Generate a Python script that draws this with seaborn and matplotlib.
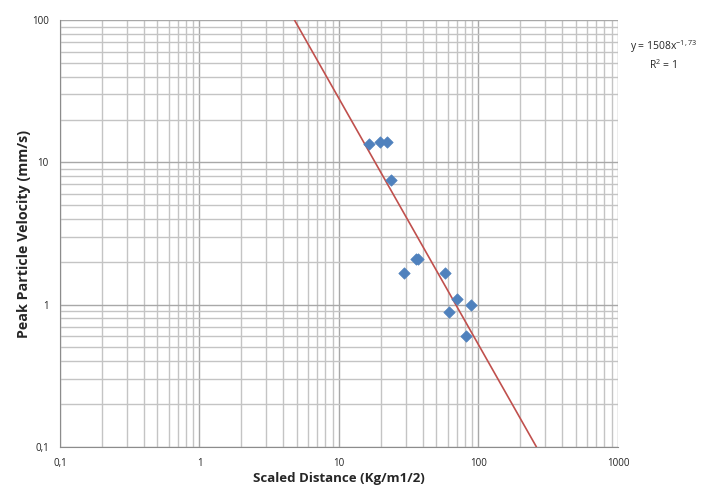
import numpy as np
import pandas as pd
import matplotlib
matplotlib.use("Agg")
import matplotlib.pyplot as plt
from matplotlib.ticker import FuncFormatter, LogLocator, NullFormatter
import seaborn as sns

# ── Data ────────────────────────────────────────────────────────────────
scaled_distance = [16.4, 19.7, 22.0, 23.5, 29.4, 35.5, 37.0, 57.8, 69.8, 88.8, 61.5, 81.0]
peak_velocity   = [13.5, 14.0, 14.0, 7.5, 1.68, 2.08, 2.08, 1.68, 1.09, 0.99, 0.89, 0.60]

fit_coef = 1508
fit_exp = -1.73
x_limits = [0.1, 1000]
y_limits = [0.1, 100]

# trendline endpoints: where the fit crosses the top and bottom of the plot
fit_x = [(y / fit_coef) ** (1 / fit_exp) for y in (y_limits[1], y_limits[0])]
fit_y = [fit_coef * x ** fit_exp for x in fit_x]

points = pd.DataFrame({"x": scaled_distance, "y": peak_velocity})
trend = pd.DataFrame({"x": fit_x, "y": fit_y})

sns.set_style("white")
plt.rcParams["font.family"] = ["Open Sans", "DejaVu Sans"]
plt.rcParams["mathtext.default"] = "regular"

fig = plt.figure(figsize=(7.04, 4.90), dpi=100)
ax = fig.add_axes([0.0852, 0.088, 0.7926, 0.871])

ax.set_xscale("log")
ax.set_yscale("log")
ax.set_xlim(*x_limits)
ax.set_ylim(*y_limits)

ax.xaxis.set_minor_locator(LogLocator(base=10, subs=np.arange(2, 10)))
ax.yaxis.set_minor_locator(LogLocator(base=10, subs=np.arange(2, 10)))
ax.xaxis.set_minor_formatter(NullFormatter())
ax.yaxis.set_minor_formatter(NullFormatter())
ax.grid(True, which="major", color="#a8a8a8", linewidth=1.0)
ax.grid(True, which="minor", color="#c4c4c4", linewidth=1.0)
ax.set_axisbelow(True)

sns.lineplot(data=trend, x="x", y="y", color="#c0504d", linewidth=1.2, ax=ax, zorder=3)
sns.scatterplot(data=points, x="x", y="y", marker="D", s=34, color="#4f81bd",
                edgecolor="#4f81bd", ax=ax, zorder=4)

fmt = FuncFormatter(lambda v, _: f"{v:g}".replace(".", ","))
ax.xaxis.set_major_formatter(fmt)
ax.yaxis.set_major_formatter(fmt)
ax.tick_params(axis="both", which="major", labelsize=7, length=4, color="#8c8c8c",
               colors="#222222", direction="out", pad=4)
ax.tick_params(axis="both", which="minor", length=0)
for side in ("top", "right"):
    ax.spines[side].set_visible(False)
for side in ("left", "bottom"):
    ax.spines[side].set_color("#8c8c8c")

ax.set_xlabel("Scaled Distance (Kg/m1/2)", fontsize=9.5, fontweight="bold", labelpad=2)
ax.set_ylabel("Peak Particle Velocity (mm/s)", fontsize=10.3, fontweight="bold", labelpad=1)

fig.text(0.942, 0.905, r"y = 1508x$^{-1,73}$", fontsize=7.5, ha="center", va="center")
fig.text(0.942, 0.867, r"R$^{2}$ = 1", fontsize=7.5, ha="center", va="center")

fig.savefig("out.png", dpi=100)
